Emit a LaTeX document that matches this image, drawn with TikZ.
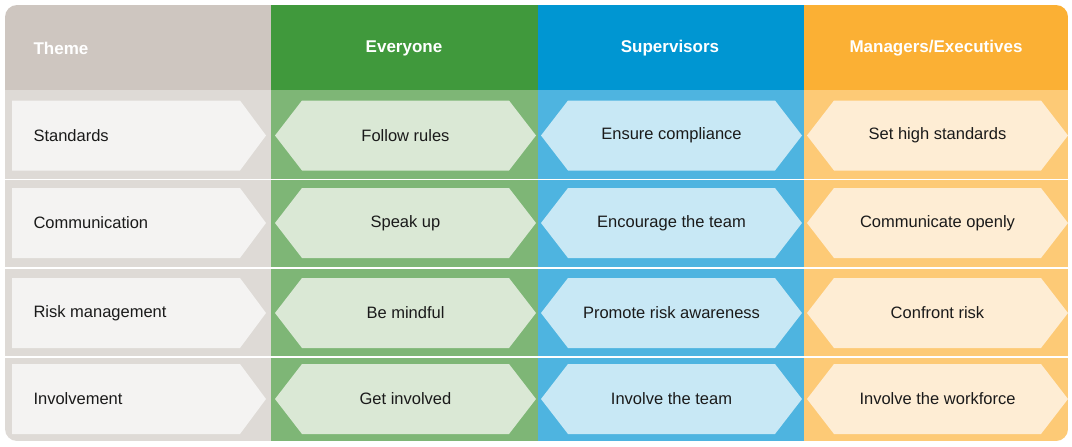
\documentclass[tikz,border=0pt]{standalone}
\usepackage{fontspec}
\setmainfont{Liberation Sans}
\definecolor{thH}{HTML}{CEC6C0}\definecolor{thB}{HTML}{DEDAD6}\definecolor{thS}{HTML}{F4F3F2}
\definecolor{grH}{HTML}{40993C}\definecolor{grB}{HTML}{7EB676}\definecolor{grS}{HTML}{DAE8D5}
\definecolor{blH}{HTML}{0096D2}\definecolor{blB}{HTML}{4EB4E0}\definecolor{blS}{HTML}{C8E8F5}
\definecolor{orH}{HTML}{FBB034}\definecolor{orB}{HTML}{FDCA76}\definecolor{orS}{HTML}{FEEDD4}
\definecolor{txt}{HTML}{1A1A1A}
\tikzset{hdr/.style={text=white,font=\fontsize{17}{20}\selectfont\bfseries},
 cell/.style={text=txt,font=\fontsize{16.5}{20}\selectfont}}
\begin{document}
\begin{tikzpicture}[x=1pt,y=-1pt]
\useasboundingbox (0,0) rectangle (1072,447);
\begin{scope}
\clip[rounded corners=12pt] (5,5) rectangle (1068,441);
% column backgrounds
\fill[thB] (5,90) rectangle (271,441); \fill[thH] (5,5) rectangle (271,90);
\fill[grB] (271,90) rectangle (538,441); \fill[grH] (271,5) rectangle (538,90);
\fill[blB] (538,90) rectangle (804,441); \fill[blH] (538,5) rectangle (804,90);
\fill[orB] (804,90) rectangle (1068,441); \fill[orH] (804,5) rectangle (1068,90);
\foreach \y in {179.5,268,357} \draw[white,line width=1.5pt] (5,\y) -- (1068,\y);
\end{scope}
\node[hdr,anchor=west] (h0) at (30,48) {Theme};
\node[hdr] (h1) at (404,48) {Everyone};
\node[hdr] (h2) at (670,48) {Supervisors};
\node[hdr] (h3) at (936,48) {Managers/Executives};
\def\rows{1/135.5/Standards/Follow rules/Ensure compliance/Set high standards,
2/223/Communication/Speak up/Encourage the team/Communicate openly,
3/313/Risk management/Be mindful/Promote risk awareness/Confront risk,
4/399/Involvement/Get involved/Involve the team/Involve the workforce}
\foreach \i/\c/\ta/\tb/\tc/\td in \rows {
 \fill[thS] (12,\c-35) -- (240,\c-35) -- (266,\c) -- (240,\c+35) -- (12,\c+35) -- cycle;
 \node[cell,anchor=west] (t\i) at (30,\c) {\ta};
 \foreach \x/\col/\tt in {275/grS/\tb,541/blS/\tc,807/orS/\td} {
  \fill[\col] (\x,\c) -- (\x+27,\c-35) -- (\x+234,\c-35) -- (\x+261,\c) -- (\x+234,\c+35) -- (\x+27,\c+35) -- cycle;
 }
 \node[cell] (a\i) at (405.5,\c) {\tb};
 \node[cell] (b\i) at (671.5,\c) {\tc};
 \node[cell] (c\i) at (937.5,\c) {\td};
}
\end{tikzpicture}
\end{document}
